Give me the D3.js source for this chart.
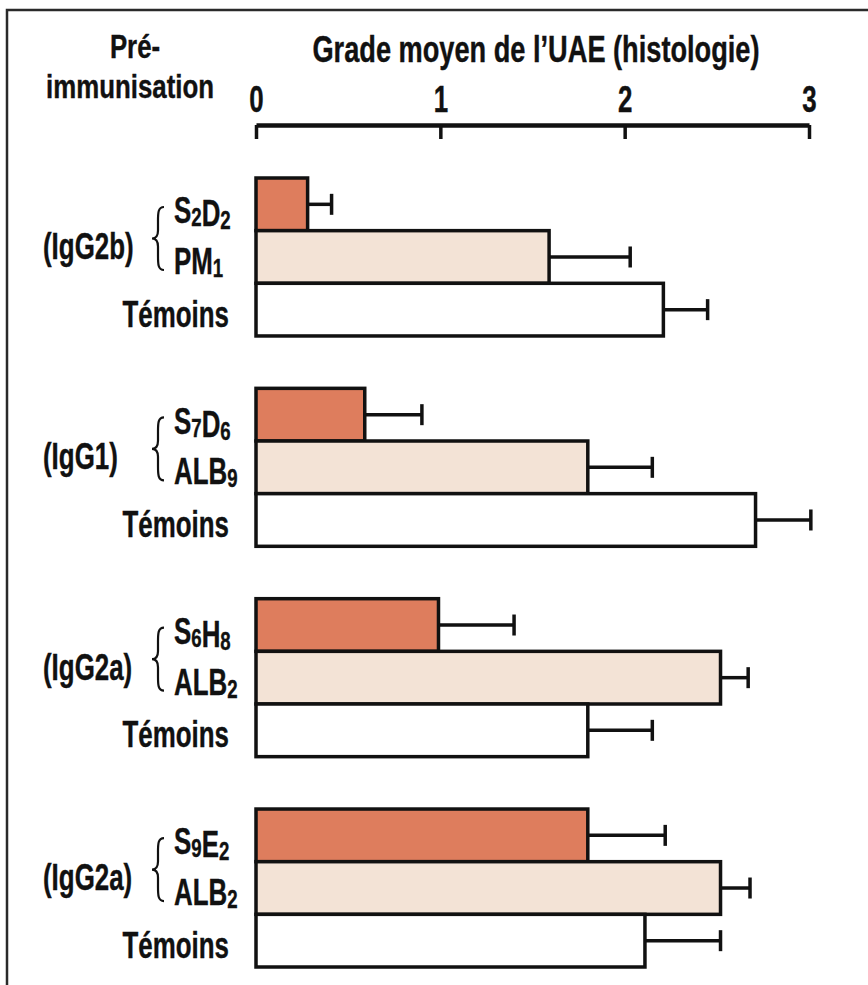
<!DOCTYPE html>
<html>
<head>
<meta charset="utf-8">
<script src="https://cdn.jsdelivr.net/npm/d3@7"></script>
<style>
    body { margin: 0; background: #ffffff; }
    text { font-family: "Liberation Sans", Arial, sans-serif; font-weight: bold; fill: #111; stroke: #111; stroke-width: 0.4; }
</style>
</head>
<body>
<div id="chart"></div>
<script>
// Chart data (grade moyen de l'UAE, histologie)
var groupLabels = ["(IgG2b)", "(IgG1)", "(IgG2a)", "(IgG2a)"];
var antibodyLabels = ["S{2}D{2}", "S{7}D{6}", "S{6}H{8}", "S{9}E{2}"];
var proteinLabels = ["PM{1}", "ALB{9}", "ALB{2}", "ALB{2}"];
var controlLabel = "Témoins";

var antibodyValues = [0.28, 0.59, 0.99, 1.80];
var antibodyErrors = [0.13, 0.31, 0.41, 0.42];
var proteinValues = [1.59, 1.80, 2.52, 2.52];
var proteinErrors = [0.44, 0.35, 0.15, 0.16];
var controlValues = [2.21, 2.71, 1.80, 2.11];
var controlErrors = [0.24, 0.30, 0.35, 0.41];

var tickValues = [0, 1, 2, 3];

// SVG area
var svgWidth = 868;
var svgHeight = 985;

// the printed font is a tall condensed bold, squeeze a normal bold to get it
var fontSize = 37;
var squeeze = 0.70;

var svg = d3.select("#chart")
    .append("svg")
    .attr("width", svgWidth)
    .attr("height", svgHeight);

// outer frame (cut by the page on the right and bottom)
svg.append("rect")
    .attr("x", 7)
    .attr("y", 10)
    .attr("width", 900)
    .attr("height", 1000)
    .attr("fill", "none")
    .attr("stroke", "#2a2a2a")
    .attr("stroke-width", 2.5);

// scales
var xScale = d3.scaleLinear()
    .domain([0, 3])
    .range([256, 809]);

var groupScale = d3.scaleBand()
    .domain(d3.range(groupLabels.length))
    .range([178, 967])
    .paddingInner(0.249)
    .paddingOuter(0);

var rowScale = d3.scaleBand()
    .domain([0, 1, 2])
    .range([0, groupScale.bandwidth()]);

// helper: write a label with {subscript} parts
function writeLabel(sel, label, size) {
    var parts = label.split(/(\{[^}]*\})/).filter(p => p.length > 0);
    parts.forEach(function (p) {
        if (p[0] === "{") {
            sel.append("tspan")
                .attr("font-size", size * 0.72)
                .attr("dy", 3)
                .text(p.slice(1, -1));
            sel.append("tspan").attr("dy", -3).text("");
        }
        else {
            sel.append("tspan").text(p);
        }
    });
}

// helper: condensed text placed at x, y
function addText(parent, x, y, anchor, label, sx, size) {
    size = size || fontSize;
    var t = parent.append("text")
        .attr("transform", `translate(${x}, ${y}) scale(${sx || squeeze}, 1)`)
        .attr("font-size", size)
        .attr("text-anchor", anchor);
    writeLabel(t, label, size);
    return t;
}

// titles
addText(svg, 536, 62, "middle", "Grade moyen de l’UAE (histologie)", 0.735);
addText(svg, 135, 58, "middle", "Pré-", 0.76, 34);
addText(svg, 130, 98, "middle", "immunisation", 0.76, 34);

// top axis, ticks pointing down
var topAxis = d3.axisTop(xScale)
    .tickValues(tickValues)
    .tickFormat(d3.format("d"))
    .tickSize(-14)
    .tickSizeOuter(0)
    .tickPadding(13);

var axisGroup = svg.append("g")
    .attr("transform", "translate(0, 125)")
    .call(topAxis);

axisGroup.select(".domain")
    .attr("stroke", "#111")
    .attr("stroke-width", 4.5);

axisGroup.selectAll(".tick line")
    .attr("stroke", "#111")
    .attr("stroke-width", 3.5);

axisGroup.selectAll(".tick text")
    .attr("font-family", null)
    .attr("font-size", fontSize)
    .attr("fill", "#111")
    .attr("transform", `scale(${squeeze}, 1)`);

// curly brace path
function bracePath(x, y0, y1) {
    var ym = (y0 + y1) / 2;
    var w = 6;
    return "M" + (x + w) + "," + y0 +
        " C" + (x) + "," + y0 + " " + (x) + "," + (y0 + 6) + " " + (x) + "," + (y0 + 14) +
        " L" + (x) + "," + (ym - 8) +
        " C" + (x) + "," + (ym - 2) + " " + (x - 2) + "," + ym + " " + (x - w) + "," + ym +
        " C" + (x - 2) + "," + ym + " " + (x) + "," + (ym + 2) + " " + (x) + "," + (ym + 8) +
        " L" + (x) + "," + (y1 - 14) +
        " C" + (x) + "," + (y1 - 6) + " " + (x) + "," + y1 + " " + (x + w) + "," + y1;
}

var fills = ["#de7d5d", "#f3e3d6", "#ffffff"];

// one group per pre-immunisation
groupLabels.forEach(function (g, i) {
    var top = groupScale(i);
    var rows = [
        { value: antibodyValues[i], error: antibodyErrors[i], fill: fills[0] },
        { value: proteinValues[i], error: proteinErrors[i], fill: fills[1] },
        { value: controlValues[i], error: controlErrors[i], fill: fills[2] }
    ];

    var grp = svg.append("g")
        .attr("transform", `translate(0, ${top})`);

    // error bars (drawn first, bars cover the start)
    rows.forEach(function (d, r) {
        var yc = rowScale(r) + rowScale.bandwidth() / 2;
        grp.append("line")
            .attr("x1", xScale(d.value))
            .attr("x2", xScale(d.value + d.error))
            .attr("y1", yc)
            .attr("y2", yc)
            .attr("stroke", "#111")
            .attr("stroke-width", 3.5);
        grp.append("line")
            .attr("x1", xScale(d.value + d.error))
            .attr("x2", xScale(d.value + d.error))
            .attr("y1", yc - 10.5)
            .attr("y2", yc + 10.5)
            .attr("stroke", "#111")
            .attr("stroke-width", 3.5);
    });

    // bars
    grp.selectAll("rect")
        .data(rows)
        .enter()
        .append("rect")
        .attr("x", xScale(0))
        .attr("y", (d, r) => rowScale(r))
        .attr("width", d => xScale(d.value) - xScale(0))
        .attr("height", rowScale.bandwidth())
        .attr("fill", d => d.fill)
        .attr("stroke", "#111")
        .attr("stroke-width", 3.5);

    // row labels
    var yc0 = rowScale(0) + rowScale.bandwidth() / 2;
    var yc1 = rowScale(1) + rowScale.bandwidth() / 2;
    var yc2 = rowScale(2) + rowScale.bandwidth() / 2;

    addText(grp, 174, yc0 + 19, "start", antibodyLabels[i]);
    addText(grp, 174, yc1 + 17, "start", proteinLabels[i]);
    addText(grp, 229, yc2 + 17, "end", controlLabel);

    // group label and brace
    addText(grp, 43, 81, "start", g);

    grp.append("path")
        .attr("d", bracePath(158, 29, 92))
        .attr("fill", "none")
        .attr("stroke", "#111")
        .attr("stroke-width", 2.2);
});
</script>
</body>
</html>
